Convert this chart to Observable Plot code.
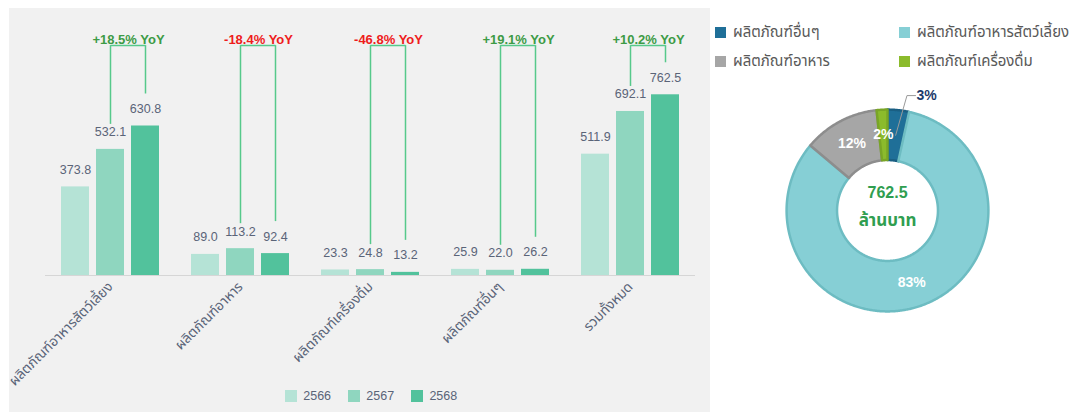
<!DOCTYPE html>
<html><head><meta charset="utf-8">
<script src="https://cdn.jsdelivr.net/npm/d3@7"></script>
<script src="https://cdn.jsdelivr.net/npm/@observablehq/plot@0.6"></script>
<style>
body{margin:0;background:#fff;font-family:"Liberation Sans",Arial,sans-serif;}
#wrap{position:relative;width:1079px;height:412px;overflow:hidden;background:#fff;}
#left{position:absolute;left:9px;top:8px;width:701px;height:404px;background:#f1f1f1;}
#barLegend{position:absolute;left:285px;top:379px;}
#barLegend .barleg-swatch{margin-right:17px;}
#pieLegend{position:absolute;left:715px;top:18px;display:grid;grid-template-columns:184px 180px;grid-auto-rows:29px;}
#pieLegend .item{display:flex;align-items:center;font-size:15px;color:#595959;font-family:"Noto Sans Thai","Noto Sans","Liberation Sans",sans-serif;}
#pieLegend .sw{width:11px;height:11px;margin-right:7px;flex:none;}
#pie{position:absolute;left:776px;top:99px;}
</style>
</head><body>
<div id="wrap">
  <div id="left"></div>
  <div id="barLegend"></div>
  <div id="pieLegend"></div>
  <div id="pie"></div>
</div>
<script>
// ---- data ----
const categories = ["ผลิตภัณฑ์อาหารสัตว์เลี้ยง","ผลิตภัณฑ์อาหาร","ผลิตภัณฑ์เครื่องดื่ม","ผลิตภัณฑ์อื่นๆ","รวมทั้งหมด"];
const years = ["2566","2567","2568"];
const v2566 = [373.8, 89.0, 23.3, 25.9, 511.9];
const v2567 = [532.1, 113.2, 24.8, 22.0, 692.1];
const v2568 = [630.8, 92.4, 13.2, 26.2, 762.5];
const yoyLabels = ["+18.5% YoY","-18.4% YoY","-46.8% YoY","+19.1% YoY","+10.2% YoY"];
const barColors = ["#b5e3d6","#8fd6bf","#52c29c"];

const pieCats = ["ผลิตภัณฑ์อื่นๆ","ผลิตภัณฑ์อาหารสัตว์เลี้ยง","ผลิตภัณฑ์อาหาร","ผลิตภัณฑ์เครื่องดื่ม"];
const pieColors = ["#1f6f98","#86cfd5","#a6a6a6","#8bbb2c"];
const pieStrokes = ["#1a5f83","#6dbcc2","#8d8d8d","#79a526"];
const totalLabel = "762.5";
const unitLabel = "ล้านบาท";

// ---- bar chart ----
const valuesByYear = [v2566, v2567, v2568];
const rows = [];
categories.forEach((c, i) => years.forEach((y, j) => rows.push({cat: c, year: y, value: valuesByYear[j][i]})));
const brackets = categories.map((c, i) => ({cat: c, a: "2567", b: "2568", va: v2567[i], vb: v2568[i], top: 970, label: yoyLabels[i]}));
const FONT = '"Liberation Sans", Arial, "Noto Sans Thai", sans-serif';
const bracketColor = "#56c98b";

const bar = Plot.plot({
  width: 701, height: 404,
  marginLeft: 34, marginRight: 13, marginTop: 30, marginBottom: 137,
  style: {background: "transparent", fontFamily: FONT, fontSize: "13.8px", color: "#5a6478", overflow: "visible"},
  fx: {domain: categories, padding: 0, axis: "bottom", label: null, tickRotate: -45, tickSize: 0, tickPadding: 9},
  x: {domain: years, paddingInner: 0.194, paddingOuter: 0.414, axis: null},
  y: {domain: [0, 1000], axis: null},
  color: {domain: years, range: barColors},
  marks: [
    Plot.barY(rows, {fx: "cat", x: "year", y: "value", fill: "year"}),
    Plot.ruleY([0], {stroke: "#d6d6d6"}),
    Plot.text(rows, {fx: "cat", x: "year", y: "value", text: d => d.value.toFixed(1), dy: -17, fill: "#5a6478", fontSize: 12.5}),
    Plot.ruleX(brackets, {fx: "cat", x: "a", y1: "top", y2: "va", insetBottom: 25, stroke: bracketColor, strokeWidth: 1.5}),
    Plot.ruleX(brackets, {fx: "cat", x: "b", y1: "top", y2: "vb", insetBottom: 32, stroke: bracketColor, strokeWidth: 1.5}),
    Plot.link(brackets, {fx: "cat", x1: "a", x2: "b", y1: "top", y2: "top", stroke: bracketColor, strokeWidth: 1.5}),
    Plot.text(brackets, {fx: "cat", x: "a", frameAnchor: "top", dx: 18, dy: -4, text: "label",
      fill: d => d.label.startsWith("-") ? "#ee1c1c" : "#3d9b45", fontWeight: "bold", fontSize: 13})
  ]
});
document.getElementById("left").append(bar);

const barLeg = Plot.legend({color: {domain: years, range: barColors}, swatchSize: 12, className: "barleg",
  style: {fontFamily: FONT, fontSize: "12.5px", color: "#5a6478"}});
document.getElementById("barLegend").append(barLeg);

// ---- pie legend ----
const pl = document.getElementById("pieLegend");
pieCats.forEach((c, i) => {
  const it = document.createElement("div"); it.className = "item";
  const sw = document.createElement("span"); sw.className = "sw"; sw.style.background = pieColors[i];
  const tx = document.createElement("span"); tx.textContent = c;
  it.append(sw, tx); pl.append(it);
});

// ---- donut ----
const pieData = pieCats.map((c, i) => ({cat: c, value: v2568[categories.indexOf(c)], color: pieColors[i], stroke: pieStrokes[i]}));
const pieSum = d3.sum(pieData, d => d.value);
const arcs = d3.pie().sort(null).value(d => d.value)(pieData);
const R0 = 0.5, R1 = 1, RL = 0.75;
function ring(a) {
  const n = Math.max(2, Math.ceil((a.endAngle - a.startAngle) / (Math.PI / 360)));
  const pts = [];
  for (let k = 0; k <= n; k++) { const t = a.startAngle + (a.endAngle - a.startAngle) * k / n; pts.push({x: R1 * Math.sin(t), y: R1 * Math.cos(t)}); }
  for (let k = n; k >= 0; k--) { const t = a.startAngle + (a.endAngle - a.startAngle) * k / n; pts.push({x: R0 * Math.sin(t), y: R0 * Math.cos(t)}); }
  return pts;
}
const mid = a => (a.startAngle + a.endAngle) / 2;
const labelled = arcs.map(a => ({a, text: Math.round(a.data.value / pieSum * 100) + "%", outside: a.data.cat === "ผลิตภัณฑ์อื่นๆ"}));
const inside = labelled.filter(d => !d.outside);
const outside = labelled.filter(d => d.outside);
const leader = outside.flatMap(d => {
  const m = mid(d.a), e = m + 0.06;
  const p0 = {x: RL * Math.sin(m), y: RL * Math.cos(m)};
  const p1 = {x: 1.155 * Math.sin(e), y: 1.155 * Math.cos(e)};
  const p2 = {x: p1.x + 0.085, y: p1.y};
  return [p0, p1, p2];
});

const pie = Plot.plot({
  width: 222, height: 222, margin: 0,
  x: {domain: [-1.1, 1.1], axis: null},
  y: {domain: [-1.1, 1.1], axis: null},
  style: {background: "transparent", fontFamily: FONT, overflow: "visible"},
  marks: [
    ...arcs.map(a => Plot.line(ring(a), {x: "x", y: "y", curve: "linear-closed", fill: a.data.color, stroke: a.data.stroke, strokeWidth: 2.5, strokeLinejoin: "round"})),
    Plot.text(inside, {x: d => RL * Math.sin(mid(d.a)), y: d => RL * Math.cos(mid(d.a)), text: "text", fill: "white", fontWeight: "bold", fontSize: 14}),
    Plot.line(leader, {x: "x", y: "y", stroke: "#9a9a9a", strokeWidth: 1}),
    Plot.text(outside, {x: () => leader[2].x, y: () => leader[2].y, dx: 1, textAnchor: "start", text: "text", fill: "#1c3a6b", fontWeight: "bold", fontSize: 14}),
    Plot.text([totalLabel], {x: 0, y: 0, dy: -18, text: d => d, fill: "#2f9e50", fontWeight: "bold", fontSize: 16}),
    Plot.text([unitLabel], {x: 0, y: 0, dy: 10, text: d => d, fill: "#2f9e50", fontWeight: "bold", fontSize: 17})
  ]
});
document.getElementById("pie").append(pie);
</script>
</body></html>
